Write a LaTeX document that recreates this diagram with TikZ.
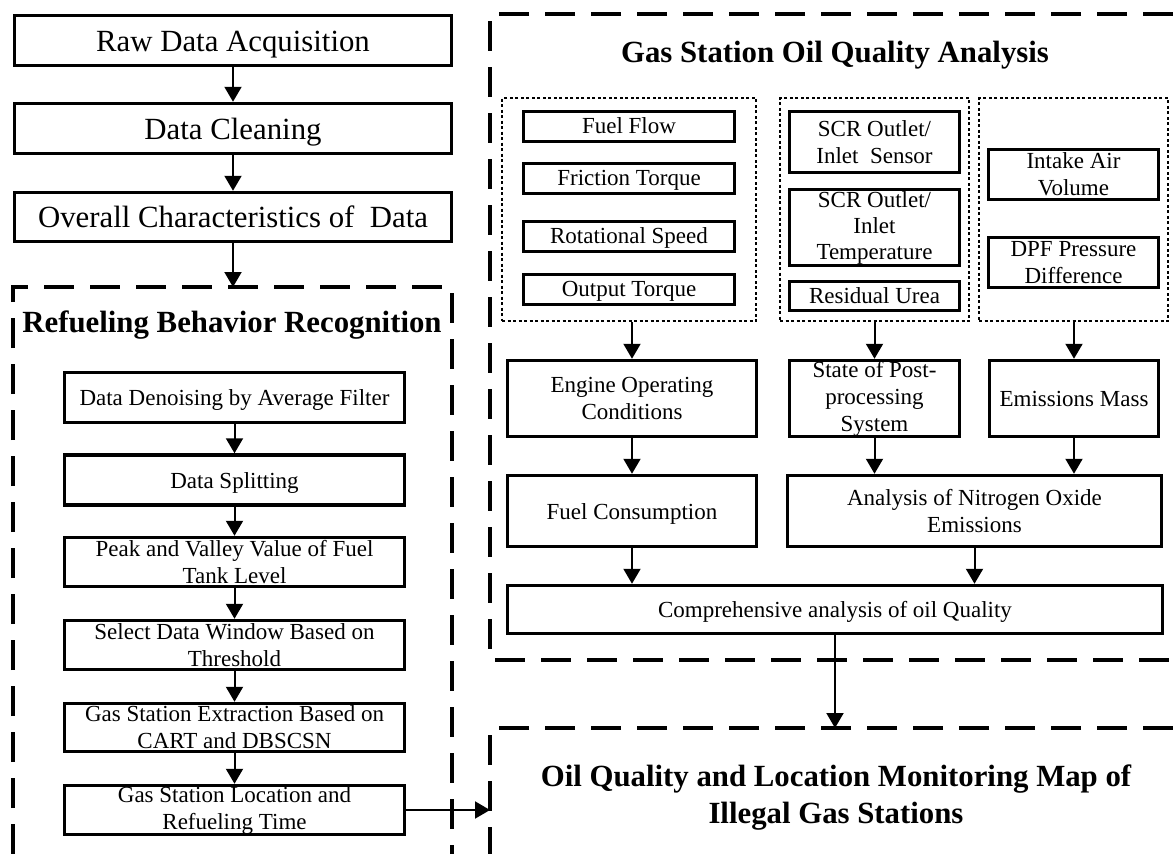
\documentclass[tikz,border=0pt]{standalone}
\usepackage{fontspec}
\setmainfont{Liberation Serif}
\usetikzlibrary{arrows.meta}
\tikzset{
  solidbox/.style={draw, line width=3.5pt, inner sep=0pt, align=center, font=\fontsize{23}{27}\selectfont},
  headbox/.style={solidbox, font=\fontsize{30.8}{37}\selectfont, text height=22pt, text depth=1pt},
  oneline/.style={text height=17pt, text depth=1pt},
  onesmall/.style={text height=15pt, text depth=1pt},
  groupbox/.style={draw, line width=2pt, dash pattern=on 3pt off 2.5pt, inner sep=0pt},
  bigdash/.style={line width=3.5pt, dash pattern=on 30pt off 16pt},
  arr/.style={line width=2pt, -{Triangle[width=17pt,length=15pt]}},
  title/.style={font=\fontsize{30.8}{37}\selectfont\bfseries, align=center, inner sep=0pt}
}
\begin{document}
\begin{tikzpicture}[x=1pt,y=-1pt]
\fill[white] (0,0) rectangle (1173,854);
\useasboundingbox (0,0) rectangle (1173,854);

% top-left chain
\node[headbox, minimum width=437pt, minimum height=50pt] (raw) at (233,40.5) {Raw Data Acquisition};
\node[headbox, minimum width=437pt, minimum height=50pt] (clean) at (233,128.5) {Data Cleaning};
\node[headbox, minimum width=437pt, minimum height=49pt] (overall) at (233,217) {Overall Characteristics of~ Data};

% refueling dashed frame
\draw[bigdash] (13,854) -- (13,287) -- (452,287) -- (452,854);
\coordinate (rtop) at (233,287);
\node[title] (rtitle) at (232,325) {Refueling Behavior Recognition};

\node[solidbox, oneline, minimum width=340pt, minimum height=50pt] (den) at (234.5,397.5) {Data Denoising by Average Filter};
\node[solidbox, oneline, minimum width=340pt, minimum height=50pt] (split) at (234.5,480) {Data Splitting};
\node[solidbox, minimum width=340pt, minimum height=49pt] (peak) at (234.5,562) {Peak and Valley Value of Fuel\\Tank Level};
\node[solidbox, minimum width=340pt, minimum height=49pt] (sel) at (234.5,645) {Select Data Window Based on\\Threshold};
\node[solidbox, minimum width=340pt, minimum height=48pt] (ext) at (234.5,727.5) {Gas Station Extraction Based on\\CART and DBSCSN};
\node[solidbox, minimum width=340pt, minimum height=49pt] (loc) at (234.5,810) {Gas Station Location and\\Refueling Time};

% right dashed frame
\draw[bigdash] (1173,14) -- (490,14) -- (490,660) -- (1173,660);
\node[title] (gtitle) at (835,55) {Gas Station Oil Quality Analysis};

% group boxes
\node[groupbox, minimum width=254pt, minimum height=223pt] (ga) at (629,209.5) {};
\node[groupbox, minimum width=189pt, minimum height=223pt] (gb) at (874.5,209.5) {};
\node[groupbox, minimum width=189pt, minimum height=223pt] (gc) at (1073.5,209.5) {};

\node[solidbox, onesmall, minimum width=211pt, minimum height=30pt] (ff) at (629,126.5) {Fuel Flow};
\node[solidbox, onesmall, minimum width=211pt, minimum height=30pt] (ft) at (629,178.5) {Friction Torque};
\node[solidbox, onesmall, minimum width=211pt, minimum height=30pt] (rs) at (629,236.5) {Rotational Speed};
\node[solidbox, onesmall, minimum width=211pt, minimum height=30pt] (ot) at (629,289.5) {Output Torque};

\node[solidbox, minimum width=170pt, minimum height=61pt] (scra) at (874.5,142) {SCR Outlet/\\Inlet~ Sensor};
\node[solidbox, minimum width=170pt, minimum height=76pt, font=\fontsize{23}{26}\selectfont] (scrb) at (874.5,227.5) {SCR Outlet/\\Inlet\\Temperature};
\node[solidbox, onesmall, minimum width=170pt, minimum height=29pt] (urea) at (874.5,296) {Residual Urea};

\node[solidbox, minimum width=170pt, minimum height=50pt] (air) at (1073.5,174.5) {Intake Air\\Volume};
\node[solidbox, minimum width=170pt, minimum height=50pt] (dpf) at (1073.5,262.5) {DPF Pressure\\Difference};

\node[solidbox, minimum width=249pt, minimum height=76pt] (eng) at (632,398.5) {Engine Operating\\Conditions};
\node[solidbox, minimum width=170pt, minimum height=76pt] (post) at (874.5,398.5) {State of Post-\\processing\\System};
\node[solidbox, oneline, minimum width=169pt, minimum height=76pt] (emi) at (1074,398.5) {Emissions Mass};

\node[solidbox, oneline, minimum width=249pt, minimum height=71pt] (fuel) at (632,511) {Fuel Consumption};
\node[solidbox, minimum width=374pt, minimum height=71pt] (nox) at (974.5,511) {Analysis of Nitrogen Oxide\\Emissions};

\node[solidbox, oneline, minimum width=655pt, minimum height=48pt] (comp) at (835,609.5) {Comprehensive analysis of oil Quality};

% bottom dashed frame
\draw[bigdash] (1173,728) -- (490,728) -- (490,854);
\coordinate (btop) at (835,728);
\coordinate (bleft) at (490,810);
\node[title] (btitle) at (836,798) {Oil Quality and Location Monitoring Map of\\Illegal Gas Stations};

% arrows
\draw[arr] (raw.south) -- (clean.north);
\draw[arr] (clean.south) -- (overall.north);
\draw[arr] (overall.south) -- (rtop);
\draw[arr] (den.south) -- (split.north);
\draw[arr] (split.south) -- (peak.north);
\draw[arr] (peak.south) -- (sel.north);
\draw[arr] (sel.south) -- (ext.north);
\draw[arr] (ext.south) -- (loc.north);
\draw[arr] (loc.east) -- (bleft);

\draw[arr] (ga.south -| eng.north) -- (eng.north);
\draw[arr] (gb.south -| post.north) -- (post.north);
\draw[arr] (gc.south -| emi.north) -- (emi.north);
\draw[arr] (eng.south) -- (fuel.north);
\draw[arr] (post.south) -- (post.south |- nox.north);
\draw[arr] (emi.south) -- (emi.south |- nox.north);
\draw[arr] (fuel.south) -- (fuel.south |- comp.north);
\draw[arr] (nox.south) -- (nox.south |- comp.north);
\draw[arr] (comp.south) -- (btop);
\end{tikzpicture}
\end{document}
